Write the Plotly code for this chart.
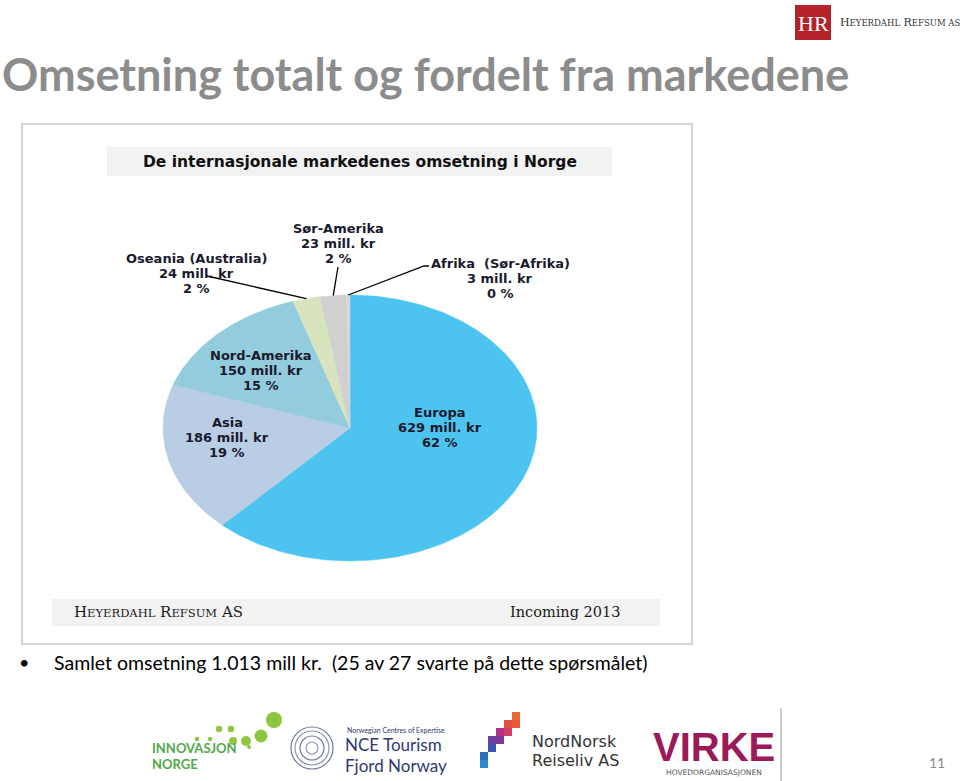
import math
import plotly.graph_objects as go

# ---------------- data ----------------
markets = ["Europa", "Asia", "Nord-Amerika", "Oseania (Australia)", "Sør-Amerika", "Afrika  (Sør-Afrika)"]
revenue = [629, 186, 150, 24, 23, 3]          # mill. kr
percent_labels = ["62 %", "19 %", "15 %", "2 %", "2 %", "0 %"]
slice_colors = ["#4DC4F0", "#B9CDE5", "#93CDDD", "#D7E4BD", "#D0D0D0", "#D6D6D6"]

# label placement (pixel space of the slide) and whether a leader line is used
label_pos = [(440, 427), (227, 437), (261, 370), (196, 273), (338, 243), (500, 278)]
leader = [False, False, False, True, True, True]
leader_start = [None, None, None, (207, 276), (338, 267), (424, 266)]

W, H = 960, 781
CX, CY, RX, RY = 350, 428, 187, 133   # ellipse (stretched pie) geometry

fig = go.Figure()

total = sum(revenue)
start = 0.0
mids = []
for name, v, col in zip(markets, revenue, slice_colors):
    frac = v / total
    a0, a1 = start * 2 * math.pi, (start + frac) * 2 * math.pi
    n = max(3, int(frac * 400))
    xs, ys = [CX], [CY]
    for i in range(n + 1):
        t = a0 + (a1 - a0) * i / n
        xs.append(CX + RX * math.sin(t))
        ys.append(CY - RY * math.cos(t))
    xs.append(CX); ys.append(CY)
    fig.add_trace(go.Scatter(x=xs, y=ys, mode="lines", fill="toself", fillcolor=col,
                             line=dict(color=col, width=0.5), hoverinfo="text",
                             text=f"{name}: {v} mill. kr", showlegend=False))
    tm = (a0 + a1) / 2
    mids.append((CX + RX * math.sin(tm), CY - RY * math.cos(tm)))
    start += frac

# leader lines
for i in range(len(markets)):
    if leader[i]:
        sx, sy = leader_start[i]
        ex, ey = mids[i]
        xs = [sx, ex]; ys = [sy, ey]
        if i == 5:
            xs = [sx + 5, sx, ex]; ys = [sy, sy, ey]
        fig.add_trace(go.Scatter(x=xs, y=ys, mode="lines", line=dict(color="#000000", width=1.3),
                                 hoverinfo="skip", showlegend=False))

# labels (three lines each, 15 px apart)
for i, name in enumerate(markets):
    x, y = label_pos[i]
    for k, line in enumerate([name, f"{revenue[i]} mill. kr", percent_labels[i]]):
        fig.add_annotation(x=x, y=y + (k - 1) * 15, xref="x", yref="y", showarrow=False,
                           text=f"<b>{line}</b>",
                           font=dict(family="DejaVu Sans", size=13, color="#1A1A2E"),
                           xanchor="center", yanchor="middle")

shapes = []
# chart frame
shapes.append(dict(type="rect", xref="x", yref="y", x0=22, x1=692, y0=124, y1=644,
                   line=dict(color="#C8C8C8", width=1.5), fillcolor="rgba(0,0,0,0)", layer="below"))
# title band
shapes.append(dict(type="rect", xref="x", yref="y", x0=107, x1=612, y0=147, y1=176,
                   line=dict(width=0), fillcolor="#F2F2F2", layer="below"))
# footer band
shapes.append(dict(type="rect", xref="x", yref="y", x0=52, x1=660, y0=599, y1=626,
                   line=dict(width=0), fillcolor="#F2F2F2", layer="below"))
# HR logo square
shapes.append(dict(type="rect", xref="x", yref="y", x0=795, x1=831, y0=5, y1=40,
                   line=dict(width=0), fillcolor="#B5232A"))
# Innovasjon Norge dots
for (dx, dy, r) in [(197, 739, 2.2), (210, 739, 2.2), (219, 729, 3.2), (231, 729, 3.2),
                    (233, 741, 4), (246, 741, 5), (261, 736, 6.5), (274, 720, 8)]:
    shapes.append(dict(type="circle", xref="x", yref="y", x0=dx - r, x1=dx + r, y0=dy - r, y1=dy + r,
                       line=dict(width=0), fillcolor="#8DC63F"))
shapes.append(dict(type="circle", xref="x", yref="y", x0=247, x1=251, y0=745, y1=749,
                   line=dict(width=0), fillcolor="#8DC63F"))
# NCE emblem
for r, c in [(21, "#6D7A99"), (17, "#8E98B3"), (12, "#6D7A99"), (6, "#8E98B3")]:
    shapes.append(dict(type="circle", xref="x", yref="y", x0=312 - r, x1=312 + r, y0=748 - r, y1=748 + r,
                       line=dict(color=c, width=1.2), fillcolor="rgba(0,0,0,0)"))
# NordNorsk steps
for (x0, y0, c) in [(480, 752, "#2E6FBF"), (488, 744, "#3D55B0"), (488, 736, "#6A3FA0"),
                    (496, 736, "#7B3A98"), (496, 728, "#B0358A"), (504, 728, "#D0406B"),
                    (504, 720, "#E0503F"), (512, 712, "#E86A2E"), (512, 720, "#E35A35"),
                    (480, 760, "#2A8AD0")]:
    shapes.append(dict(type="rect", xref="x", yref="y", x0=x0, x1=x0 + 8, y0=y0, y1=y0 + 8,
                       line=dict(width=0), fillcolor=c))
# separator line right of VIRKE
shapes.append(dict(type="line", xref="x", yref="y", x0=781, x1=781, y0=708, y1=781,
                   line=dict(color="#BBBBBB", width=1.5)))

def txt(x, y, s, size, color="#000000", family="Lato", xa="left", ya="middle", bold=False):
    fig.add_annotation(x=x, y=y, xref="x", yref="y", showarrow=False,
                       text=f"<b>{s}</b>" if bold else s,
                       font=dict(family=family, size=size, color=color),
                       xanchor=xa, yanchor=ya, align="left")

# slide title
txt(0, 74, "Omsetning totalt og fordelt fra markedene", 45, "#8C8C8C", "Lato", bold=True)
# chart title
txt(360, 162, "De internasjonale markedenes omsetning i Norge", 15.5, "#111111", "DejaVu Sans", xa="center", bold=True)
# footer texts
txt(72, 612, "H<span style='font-size:11.5px'>EYERDAHL</span> R<span style='font-size:11.5px'>EFSUM</span> AS",
    15, "#1A1A1A", "DejaVu Serif")
txt(622, 612, "Incoming 2013", 14.5, "#1A1A1A", "DejaVu Serif", xa="right")
# bullet
txt(17, 662, "•", 18, "#000000", "Lato")
txt(52, 662, "Samlet omsetning 1.013 mill kr.  (25 av 27 svarte på dette spørsmålet)", 19.5, "#000000", "Lato")
# HR logo
txt(813, 23, "HR", 22, "#FFFFFF", "Liberation Serif", xa="center")
txt(838, 22, "H<span style='font-size:8.5px'>EYERDAHL</span> R<span style='font-size:8.5px'>EFSUM AS</span>",
    11, "#333333", "DejaVu Serif")
# bottom logos
txt(150, 748, "INNOVASJON", 13, "#4FA84A", "Lato", bold=True)
txt(150, 764, "NORGE", 13, "#4FA84A", "Lato", bold=True)
txt(345, 730, "Norwegian Centres of Expertise", 7, "#2E3A6E", "Lato")
txt(343, 744, "NCE Tourism", 17, "#2E3A6E", "Lato")
txt(343, 765, "Fjord Norway", 17, "#2E3A6E", "Lato")
txt(530, 741, "NordNorsk", 16, "#333333", "DejaVu Sans")
txt(530, 760, "Reiseliv AS", 16, "#333333", "DejaVu Sans")
txt(714, 747, "VIRKE", 40, "#9B1B5A", "Liberation Sans", xa="center", bold=True)
txt(714, 772, "HOVEDORGANISASJONEN", 7.5, "#555555", "DejaVu Sans", xa="center")
# page number
txt(937, 762, "11", 14, "#8C8C8C", "Lato", xa="center")

fig.update_layout(
    width=W, height=H, margin=dict(l=0, r=0, t=0, b=0),
    paper_bgcolor="#FFFFFF", plot_bgcolor="#FFFFFF",
    xaxis=dict(range=[0, W], visible=False, fixedrange=True, domain=[0, 1]),
    yaxis=dict(range=[H, 0], visible=False, fixedrange=True, domain=[0, 1]),
    shapes=shapes, showlegend=False,
)

fig.write_html("out.html")
